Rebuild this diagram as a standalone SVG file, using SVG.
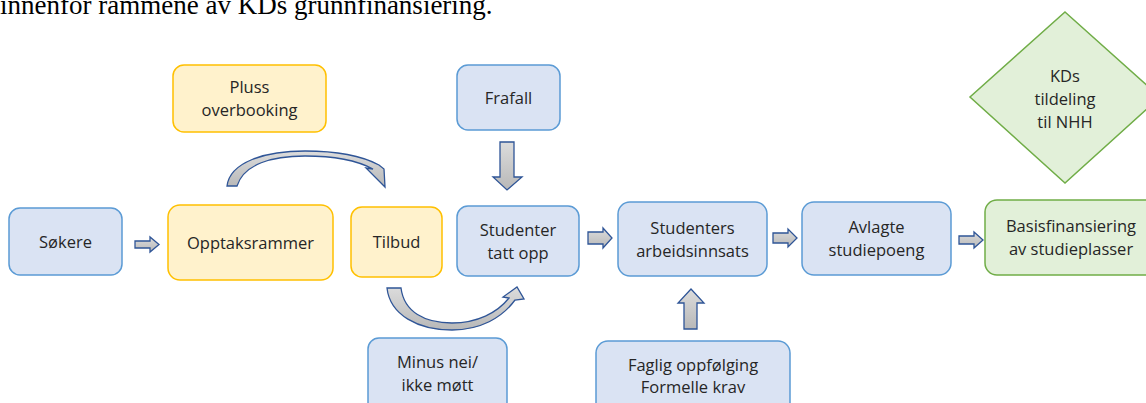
<svg xmlns="http://www.w3.org/2000/svg" width="1146" height="403" viewBox="0 0 1146 403">
<defs>
<linearGradient id="gray" x1="0" y1="0" x2="0" y2="1">
<stop offset="0" stop-color="#DCDCDC"/>
<stop offset="1" stop-color="#B8B8B8"/>
</linearGradient>
<style>
.blue{fill:#DAE3F3;stroke:#5B9BD5;stroke-width:1.5}
.yel{fill:#FFF2CC;stroke:#FFC000;stroke-width:1.5}
.grn{fill:#E2F0D9;stroke:#70AD47;stroke-width:1.5}
.t{font-family:"Open Sans","Noto Sans",sans-serif;font-size:16.5px;fill:#262626;text-anchor:middle}
.arr{fill:url(#gray);stroke:#2F5597;stroke-width:1.3;stroke-linejoin:miter}
.title{font-family:"Liberation Serif","Times New Roman",serif;font-size:27px;fill:#000}
</style>
</defs>
<rect width="1146" height="403" fill="#fff"/>
<text class="title" x="0" y="14">innenfor rammene av KDs grunnfinansiering.</text>

<g id="sokere"><rect class="blue" x="9" y="208" width="113" height="67" rx="11"/><text class="t" x="65.5" y="247.5">Søkere</text></g>
<g id="opptaksrammer"><rect class="yel" x="168" y="205" width="165" height="75" rx="12"/><text class="t" x="250.5" y="248.5">Opptaksrammer</text></g>
<g id="tilbud"><rect class="yel" x="351" y="207" width="91" height="70" rx="11"/><text class="t" x="396.5" y="248">Tilbud</text></g>
<g id="pluss"><rect class="yel" x="173" y="65" width="153" height="67" rx="11"/><text class="t" x="249.5" y="93">Pluss</text><text class="t" x="249.5" y="116">overbooking</text></g>
<g id="frafall"><rect class="blue" x="457" y="65" width="103" height="65" rx="11"/><text class="t" x="508.5" y="103.5">Frafall</text></g>
<g id="studenter"><rect class="blue" x="457" y="206" width="122" height="70" rx="11"/><text class="t" x="518" y="236">Studenter</text><text class="t" x="518" y="259">tatt opp</text></g>
<g id="arbeidsinnsats"><rect class="blue" x="618" y="202" width="149" height="74" rx="12"/><text class="t" x="692.5" y="233.5">Studenters</text><text class="t" x="692.5" y="256.5">arbeidsinnsats</text></g>
<g id="avlagte"><rect class="blue" x="802" y="202" width="149" height="73" rx="12"/><text class="t" x="876.5" y="233">Avlagte</text><text class="t" x="876.5" y="256">studiepoeng</text></g>
<g id="basis"><rect class="grn" x="985" y="200" width="172" height="75" rx="12"/><text class="t" x="1071" y="232">Basisfinansiering</text><text class="t" x="1071" y="255">av studieplasser</text></g>
<g id="kd"><polygon class="grn" points="1065,12 1160,97 1065,183 970,97"/><text class="t" x="1065" y="82">KDs</text><text class="t" x="1065" y="105">tildeling</text><text class="t" x="1065" y="128">til NHH</text></g>
<g id="minus"><rect class="blue" x="368" y="338" width="139" height="75" rx="11"/><text class="t" x="437.5" y="368">Minus nei/</text><text class="t" x="437.5" y="391">ikke møtt</text></g>
<g id="faglig"><rect class="blue" x="596" y="341" width="194" height="75" rx="12"/><text class="t" x="693" y="371">Faglig oppfølging</text><text class="t" x="693" y="393">Formelle krav</text></g>

<g id="connectors">
<path class="arr" d="M135,241 H150 V237 L159,244.5 L150,252 V248 H135 Z"/>
<path class="arr" d="M588,232 H603 V228 L612,238 L603,248 V244 H588 Z"/>
<path class="arr" d="M773,233 H788 V229 L797,238 L788,247 V243 H773 Z"/>
<path class="arr" d="M959,236 H974 V232 L983,240 L974,248 V244 H959 Z"/>
<path class="arr" d="M500,142 H514 V177 H522 L507,190 L493,177 H500 Z"/>
<path class="arr" d="M684,329 V303 H678 L691,289 L704,303 H697 V329 Z"/>
<path class="arr" d="M227,186 C230,162 265,151 305,151 C340,151 364,157 379,165 L384,169 L385,187 L366,168 L373,169 C358,161 335,156 305,156 C272,156 244,164 237,186 Z"/>
<path class="arr" d="M387,288 C390,315 418,330 452,330 C480,330 502,318 515,300 L524,299 L517,287 L503,297 L509,298 C497,313 477,323 452,323 C425,323 404,312 401,288 Z"/>
</g>
</svg>
